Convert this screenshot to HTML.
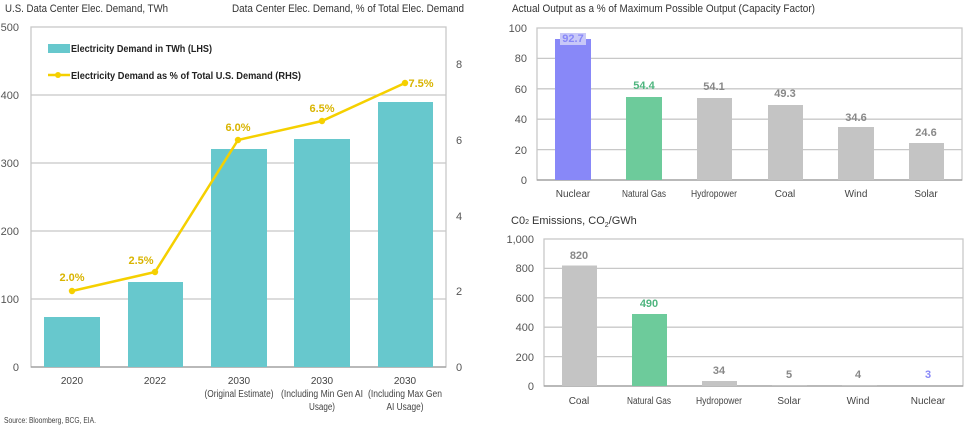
<!DOCTYPE html><html><head><style>body{margin:0;background:#fff}svg{display:block;font-family:"Liberation Sans",sans-serif}</style></head><body>
<svg width="969" height="426" viewBox="0 0 969 426">
<g font-size="11" fill="#333">
<text x="5" y="12" textLength="163" lengthAdjust="spacingAndGlyphs">U.S. Data Center Elec. Demand, TWh</text>
<text x="232" y="12" textLength="232" lengthAdjust="spacingAndGlyphs">Data Center Elec. Demand, % of Total Elec. Demand</text>
</g>
<g stroke="#c8c8c8" stroke-width="1.3" fill="none">
<rect x="31" y="27" width="415" height="340"/>
<line x1="31" y1="95" x2="446" y2="95"/><line x1="31" y1="163" x2="446" y2="163"/><line x1="31" y1="231" x2="446" y2="231"/><line x1="31" y1="299" x2="446" y2="299"/>
</g>
<line x1="31" y1="367" x2="446" y2="367" stroke="#999" stroke-width="1.3"/>
<g font-size="11" fill="#555" text-anchor="end">
<text x="19" y="31">500</text><text x="19" y="99">400</text><text x="19" y="167">300</text><text x="19" y="235">200</text><text x="19" y="303">100</text><text x="19" y="371">0</text>
</g>
<g font-size="11" fill="#555">
<text x="456" y="68">8</text><text x="456" y="144">6</text><text x="456" y="220">4</text><text x="456" y="295">2</text><text x="456" y="371">0</text>
</g>
<g fill="#67c8cd">
<rect x="44" y="317" width="56" height="50"/><rect x="128" y="282" width="55" height="85"/><rect x="211" y="149" width="56" height="218"/><rect x="294" y="139" width="56" height="228"/><rect x="378" y="102" width="55" height="265"/>
<rect x="48" y="44" width="22" height="9"/>
</g>
<text x="71" y="52" font-size="10" font-weight="bold" fill="#222" textLength="141" lengthAdjust="spacingAndGlyphs">Electricity Demand in TWh (LHS)</text>
<line x1="48" y1="75" x2="70" y2="75" stroke="#f5d000" stroke-width="2.5"/><circle cx="58" cy="75" r="3" fill="#f5d000"/>
<text x="71" y="79" font-size="10" font-weight="bold" fill="#222" textLength="230" lengthAdjust="spacingAndGlyphs">Electricity Demand as % of Total U.S. Demand (RHS)</text>
<polyline points="72,291 155,272 238,140 322,121 405,83" fill="none" stroke="#f5d000" stroke-width="2.5"/>
<g fill="#f5d000"><circle cx="72" cy="291" r="3.2"/><circle cx="155" cy="272" r="3.2"/><circle cx="238" cy="140" r="3.2"/><circle cx="322" cy="121" r="3.2"/><circle cx="405" cy="83" r="3.2"/></g>
<g font-size="11" font-weight="bold" fill="#d9b400" text-anchor="middle">
<text x="72" y="281">2.0%</text><text x="141" y="264">2.5%</text><text x="238" y="131">6.0%</text><text x="322" y="112">6.5%</text><text x="421" y="87">7.5%</text>
</g>
<g font-size="10" fill="#444" text-anchor="middle">
<text x="72" y="384">2020</text><text x="155" y="384">2022</text>
<text x="239" y="384">2030</text><text x="239" y="397" textLength="69" lengthAdjust="spacingAndGlyphs">(Original Estimate)</text>
<text x="322" y="384">2030</text><text x="322" y="397" textLength="82" lengthAdjust="spacingAndGlyphs">(Including Min Gen AI</text><text x="322" y="410" textLength="26" lengthAdjust="spacingAndGlyphs">Usage)</text>
<text x="405" y="384">2030</text><text x="405" y="397" textLength="74" lengthAdjust="spacingAndGlyphs">(Including Max Gen</text><text x="405" y="410" textLength="37" lengthAdjust="spacingAndGlyphs">AI Usage)</text>
</g>
<text x="4" y="423" font-size="8" fill="#444" textLength="92" lengthAdjust="spacingAndGlyphs">Source: Bloomberg, BCG, EIA.</text>

<text x="512" y="12" font-size="11" fill="#333" textLength="303" lengthAdjust="spacingAndGlyphs">Actual Output as a % of Maximum Possible Output (Capacity Factor)</text>
<g stroke="#c8c8c8" stroke-width="1.3" fill="none">
<rect x="537" y="28" width="425" height="152"/>
<line x1="537" y1="58.4" x2="962" y2="58.4"/><line x1="537" y1="88.8" x2="962" y2="88.8"/><line x1="537" y1="119.2" x2="962" y2="119.2"/><line x1="537" y1="149.6" x2="962" y2="149.6"/>
</g>
<line x1="537" y1="180" x2="962" y2="180" stroke="#999" stroke-width="1.3"/>
<g font-size="11" fill="#555" text-anchor="end">
<text x="527" y="32">100</text><text x="527" y="62">80</text><text x="527" y="93">60</text><text x="527" y="123">40</text><text x="527" y="154">20</text><text x="527" y="184">0</text>
</g>
<rect x="555" y="39" width="36" height="141" fill="#8888f8"/>
<rect x="560" y="33" width="26" height="12" fill="#c8c8f8"/>
<rect x="626" y="97" width="36" height="83" fill="#6dcb9b"/>
<g fill="#c4c4c4"><rect x="697" y="98" width="35" height="82"/><rect x="768" y="105" width="35" height="75"/><rect x="838" y="127" width="36" height="53"/><rect x="909" y="143" width="35" height="37"/></g>
<g font-size="11" font-weight="bold" text-anchor="middle" fill="#888">
<text x="573" y="42" fill="#8888f8">92.7</text><text x="644" y="89" fill="#4fb57f">54.4</text><text x="714" y="90">54.1</text><text x="785" y="97">49.3</text><text x="856" y="121">34.6</text><text x="926" y="136">24.6</text>
</g>
<g font-size="10" fill="#444" text-anchor="middle">
<text x="573" y="197">Nuclear</text><text x="644" y="197" textLength="44" lengthAdjust="spacingAndGlyphs">Natural Gas</text><text x="714" y="197" textLength="46" lengthAdjust="spacingAndGlyphs">Hydropower</text><text x="785" y="197">Coal</text><text x="856" y="197">Wind</text><text x="926" y="197">Solar</text>
</g>

<text x="511" y="224" font-size="11" fill="#333">C0<tspan font-size="7">2</tspan> Emissions, CO<tspan font-size="7" dy="3">2</tspan><tspan dy="-3">/GWh</tspan></text>
<g stroke="#c8c8c8" stroke-width="1.3" fill="none">
<rect x="544" y="239" width="419" height="147"/>
<line x1="544" y1="268.4" x2="963" y2="268.4"/><line x1="544" y1="297.8" x2="963" y2="297.8"/><line x1="544" y1="327.2" x2="963" y2="327.2"/><line x1="544" y1="356.6" x2="963" y2="356.6"/>
</g>
<line x1="544" y1="386" x2="963" y2="386" stroke="#999" stroke-width="1.3"/>
<g font-size="11" fill="#555" text-anchor="end">
<text x="534" y="243">1,000</text><text x="534" y="272">800</text><text x="534" y="302">600</text><text x="534" y="331">400</text><text x="534" y="361">200</text><text x="534" y="390">0</text>
</g>
<rect x="562" y="265.5" width="35" height="120.5" fill="#c4c4c4"/>
<rect x="632" y="314" width="35" height="72" fill="#6dcb9b"/>
<rect x="702" y="381" width="35" height="5" fill="#c4c4c4"/>
<rect x="772" y="385" width="35" height="1" fill="#c4c4c4"/><rect x="842" y="385" width="35" height="1" fill="#c4c4c4"/>
<g font-size="11" font-weight="bold" text-anchor="middle" fill="#888">
<text x="579" y="259">820</text><text x="649" y="307" fill="#4fb57f">490</text><text x="719" y="374">34</text><text x="789" y="378">5</text><text x="858" y="378">4</text><text x="928" y="378" fill="#8888f8">3</text>
</g>
<g font-size="10" fill="#444" text-anchor="middle">
<text x="579" y="404">Coal</text><text x="649" y="404" textLength="44" lengthAdjust="spacingAndGlyphs">Natural Gas</text><text x="719" y="404" textLength="46" lengthAdjust="spacingAndGlyphs">Hydropower</text><text x="789" y="404">Solar</text><text x="858" y="404">Wind</text><text x="928" y="404">Nuclear</text>
</g>
</svg></body></html>
